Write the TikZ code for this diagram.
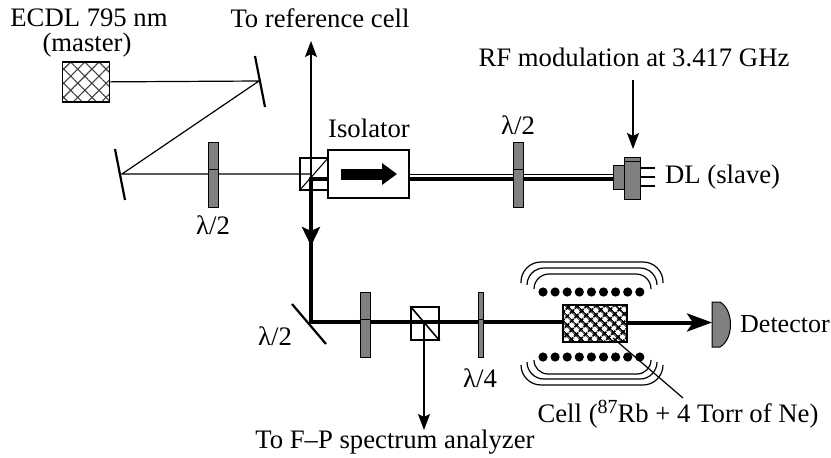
\documentclass[tikz,border=0pt]{standalone}
\usepackage{fontspec}
\setmainfont{Liberation Serif}
\usetikzlibrary{arrows.meta, patterns, patterns.meta}
\tikzstyle{label} = [inner sep=0pt, font=\fontsize{26.7}{27}\selectfont, align=center]
\tikzstyle{plate} = [rectangle, minimum width=10pt, minimum height=65pt, inner sep=0pt, draw=black, line width=1pt, fill=black!50]
\tikzstyle{thinplate} = [plate, minimum width=5pt]
\tikzstyle{cube} = [rectangle, minimum width=28pt, minimum height=32pt, inner sep=0pt, draw=black, line width=1.5pt]
\tikzstyle{beam} = [line width=1.2pt]
\tikzstyle{strongbeam} = [line width=4pt]
\tikzstyle{mirror} = [line width=2.2pt]
\tikzstyle{arrow} = [line width=1.2pt,-{Stealth[length=16pt,width=12pt,inset=3pt]}]
\tikzstyle{strongarrow} = [strongbeam,-{Stealth[length=19pt,width=18pt,inset=4pt]}]
\tikzstyle{coil} = [line width=1.2pt]
\begin{document}
\begin{tikzpicture}[x=1pt,y=-1pt]
	\useasboundingbox (0,0) rectangle (831,458);
	% points on the beams
	\coordinate (m1) at (259,81);
	\coordinate (m2) at (122,174);
	\coordinate (m3) at (311,322);
	\coordinate (refend) at (311,41);
	\coordinate (split) at (311,174);
	\coordinate (turn) at (311,179);
	\coordinate (downtip) at (311,246);
	\coordinate (rfstart) at (633,80);
	\coordinate (rftip) at (633,149);
	\coordinate (fptip) at (424,430);
	\coordinate (cellend) at (683,398);
	\coordinate (cellpt) at (613,338);
	% thin beams
	\node (master) [rectangle, minimum width=47pt, minimum height=40pt, inner sep=0pt, draw=black, line width=1.3pt, pattern={Hatch[angle=45,distance=10pt,line width=1.1pt]}, pattern color=black!75] at (86,82) {};
	\node (cube1) [cube] at (314,174) {};
	\draw [line width=1.1pt] (cube1.south west) -- (cube1.north east);
	\draw [beam] (master) -- (m1) -- (m2) -- (split);
	\draw [mirror] (255,56) -- (265,107);
	\draw [mirror] (115,149) -- (125,200);
	\node (wp1) [plate] at (213,174.5) {};
	\draw [arrow] (turn) -- (refend);
	% isolator and slave beam
	\node (iso) [rectangle, minimum width=81pt, minimum height=48pt, inner sep=0pt, draw=black, line width=1.6pt, fill=white] at (368.5,174) {};
	\draw [line width=11pt, -{Triangle[length=15pt,width=21pt]}] (341,174) -- (397,174);
	\node (dlbase) [rectangle, minimum width=11pt, minimum height=24pt, inner sep=0pt, draw=black, line width=1pt, fill=black!50] at (619,177) {};
	\draw [beam] (iso.east |- 0,174.5) -- (dlbase.west |- 0,174.5);
	\draw [strongbeam] (iso.east |- 0,179) -- (dlbase.west |- 0,179);
	\draw [strongbeam] (309,179) -- (iso.west |- 0,179);
	\node (wp2) [plate] at (518,174.5) {};
	\node (dl) [rectangle, minimum width=16pt, minimum height=42pt, inner sep=0pt, draw=black, line width=1pt, fill=black!50] at (632,178) {};
	\draw [line width=.8pt] (624,161) -- (640,161);
	\foreach \py in {168,177,186}
		\draw [line width=2.2pt] (dl.east |- 0,\py) -- (655,\py);
	\draw [arrow] (rfstart) -- (rftip);
	% lower arm
	\draw [strongbeam] (turn) -- (m3);
	\draw [strongarrow] (turn) -- (downtip);
	\draw [mirror] (292,304) -- (326,344);
	\draw [strongbeam] (309,322) -- (563,322);
	\node (wp3) [plate] at (365,324.5) {};
	\node (cube2) [cube, minimum height=33pt, fill=white] at (425,323.5) {};
	\draw [strongbeam] (cube2.west |- 0,322) -- (cube2.east |- 0,322);
	\draw [line width=1.6pt] (cube2.north west) -- (cube2.south east);
	\draw [arrow] (424,323) -- (fptip);
	\node (wp4) [thinplate] at (480.5,324.5) {};
	\foreach \wp in {wp1,wp2,wp3,wp4}
		\draw [line width=.4pt] ([yshift=5pt]\wp.west) -- ([yshift=5pt]\wp.east);
	% cell, coils and detector
	\node (cell) [rectangle, minimum width=64pt, minimum height=37pt, inner sep=0pt, draw=black, line width=1.2pt, fill=white, pattern={Hatch[angle=45,distance=6.5pt,line width=2.2pt]}] at (595,323.5) {};
	\coordinate (det) at (712,322.5);
	\draw [draw=black, line width=1pt, fill=black!50] (712,302) -- (720,302) .. controls (734,310) and (734,339) .. (720,347) -- (712,347) -- cycle;
	\draw [strongbeam, -{Stealth[length=25pt,width=18pt,inset=6pt]}] (cell.east |- det) -- (det);
	\foreach \n in {0,...,8}
		\fill (543+12.1*\n,292) circle (4.6pt) (543+12.1*\n,357) circle (4.6pt);
	\draw [coil, rounded corners=20pt] (521,283) -- (521,262) -- (663,262) -- (663,283);
	\draw [coil, rounded corners=17pt] (527,285) -- (527,268) -- (657,268) -- (657,285);
	\draw [coil, rounded corners=15pt] (534,289) -- (534,274) -- (651,274) -- (651,289);
	\draw [coil, rounded corners=20pt] (521,365) -- (521,385) -- (663,385) -- (663,365);
	\draw [coil, rounded corners=17pt] (527,362) -- (527,379) -- (657,379) -- (657,362);
	\draw [coil, rounded corners=14pt] (534,360) -- (534,374) -- (651,374) -- (651,360);
	\draw [beam] (cellpt) -- (cellend);
	% texts
	\node (tmaster) [label] at (89,18) {ECDL 795 nm};
	\node (tmaster2) [label] at (87,45) {(master)};
	\node (tref) [label] at (320,18) {To reference cell};
	\node (tiso) [label] at (369,128) {Isolator};
	\node (trf) [label] at (634,57) {RF modulation at 3.417 GHz};
	\node (tdl) [label, anchor=west] at (665,177) {DL (slave)};
	\node (tdet) [label, anchor=west, font=\fontsize{26}{27}\selectfont] at (740,324) {Detector};
	\node (tcell) [label] at (678,414) {Cell (\raisebox{9pt}{\fontsize{20}{20}\selectfont 87}Rb + 4 Torr of Ne)};
	\node (tfp) [label] at (395,442) {To F–P spectrum analyzer};
	\node (tw1) [label] at (213,225) {λ/2};
	\node (tw2) [label] at (518,125) {λ/2};
	\node (tw3) [label] at (275,336) {λ/2};
	\node (tw4) [label] at (480,378) {λ/4};
\end{tikzpicture}
\end{document}
